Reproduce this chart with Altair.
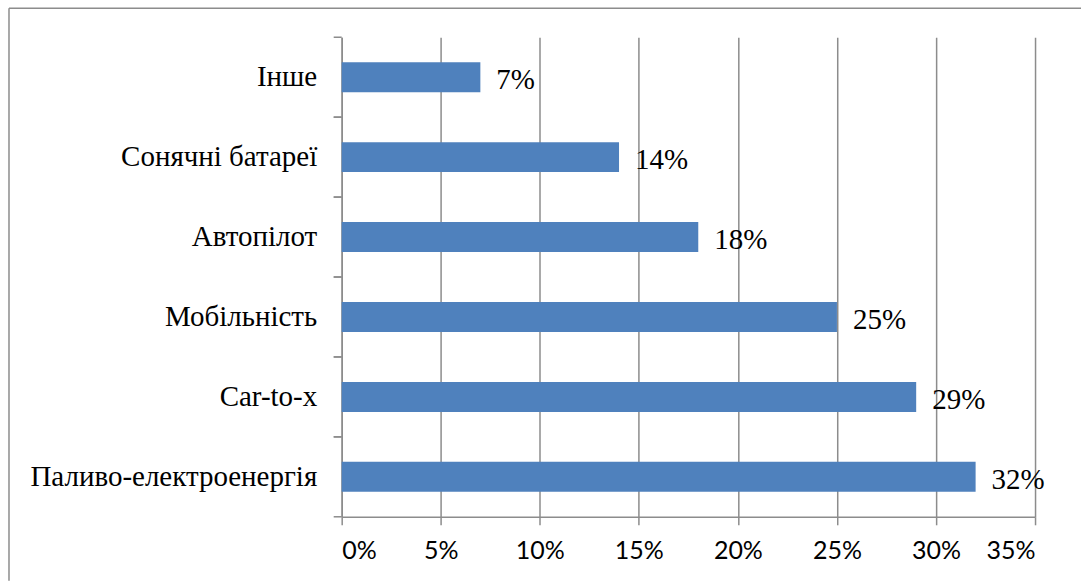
import altair as alt
import pandas as pd

# Survey shares by technology area (percent)
categories = ["Інше", "Сонячні батареї", "Автопілот", "Мобільність", "Car-to-x", "Паливо-електроенергія"]
shares = [7, 14, 18, 25, 29, 32]
x_ticks = [0, 5, 10, 15, 20, 25, 30, 35]

df = pd.DataFrame({"cat": categories, "share": shares})

GRAY = "#8c8c8c"
BLUE = "#4f81bd"
SERIF = "Liberation Serif"
SANS = "Lato"

y_enc = alt.Y(
    "cat:N",
    sort=categories,
    scale=alt.Scale(paddingInner=0, paddingOuter=0),
    axis=alt.Axis(
        title=None,
        ticks=False,
        labelFont=SERIF,
        labelFontSize=29,
        labelColor="black",
        labelPadding=25,
        labelLimit=0,
        domainColor=GRAY,
        domainWidth=1.5,
        grid=False,
    ),
)

x_enc = alt.X(
    "share:Q",
    scale=alt.Scale(domain=[0, 35], nice=False),
    axis=alt.Axis(
        title=None,
        values=x_ticks,
        labelExpr="datum.value + '%'",
        labelFont=SANS,
        labelFontSize=25,
        labelColor="black",
        labelPadding=14,
        tickSize=8,
        tickColor=GRAY,
        tickWidth=1.5,
        domainColor=GRAY,
        domainWidth=1.5,
        grid=True,
        gridColor=GRAY,
        gridWidth=1.5,
    ),
)

base = alt.Chart(df)

bars = base.mark_bar(color=BLUE, size=30).encode(x=x_enc, y=y_enc)

labels = base.mark_text(
    align="left", baseline="middle", dx=16, dy=3, font=SERIF, fontSize=29, color="black"
).encode(
    x="share:Q",
    y=alt.Y("cat:N", sort=categories),
    text=alt.Text("label:N"),
).transform_calculate(label="datum.share + '%'")

# category separator ticks on the left of the y axis
sep_top = base.mark_rule(color=GRAY, strokeWidth=1.5).encode(
    y=alt.Y("cat:N", sort=categories, bandPosition=0),
    x=alt.value(-8),
    x2=alt.value(0),
)
sep_bottom = base.mark_rule(color=GRAY, strokeWidth=1.5).encode(
    y=alt.Y("cat:N", sort=categories, bandPosition=1),
    x=alt.value(-8),
    x2=alt.value(0),
)

# outer frame (top and left edges)
one = alt.Chart(pd.DataFrame({"k": [0]}))
frame_top = one.mark_rule(color=GRAY, strokeWidth=1.5).encode(
    x=alt.value(-333), x2=alt.value(740), y=alt.value(-29)
)
frame_left = one.mark_rule(color=GRAY, strokeWidth=1.5).encode(
    x=alt.value(-333), y=alt.value(-29), y2=alt.value(544)
)

chart = (
    alt.layer(frame_top, frame_left, bars, labels, sep_top, sep_bottom)
    .properties(
        width=694,
        height=480,
        padding={"left": 8, "top": 7, "right": 0, "bottom": 0},
        background="white",
    )
    .configure_view(stroke=None)
)

chart.save("out.html", embed_options={"renderer": "svg", "actions": False})
